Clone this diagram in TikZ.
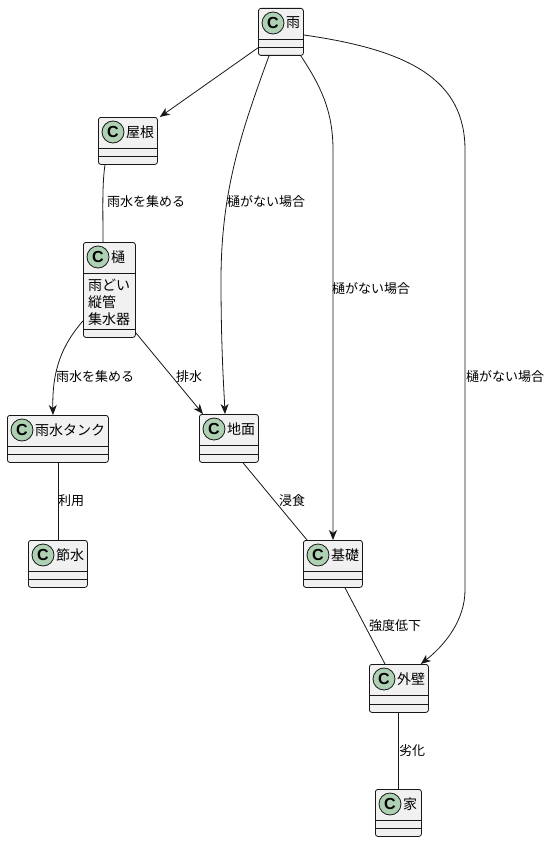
\documentclass[tikz,border=0pt]{standalone}
\usepackage{fontspec}
\setmainfont{Noto Sans CJK JP}
\newfontfamily\cfont{Liberation Sans}
\usetikzlibrary{arrows.meta,calc}
\definecolor{boxfill}{HTML}{F1F1F1}
\definecolor{ln}{HTML}{181818}
\definecolor{cgreen}{HTML}{ADD1B2}
\tikzset{
  cls/.style={draw=ln, fill=boxfill, rounded corners=2.5pt, anchor=north west, inner sep=0pt, line width=0.8pt},
  circ/.style={circle, draw=ln, fill=cgreen, minimum size=22pt, inner sep=0pt, line width=0.8pt, font=\cfont\bfseries\fontsize{16}{16}\selectfont},
  ttl/.style={inner sep=0pt, anchor=west, font=\fontsize{14}{14}\selectfont},
  attr/.style={inner sep=0pt, anchor=west, font=\fontsize{14}{14}\selectfont},
  sep/.style={draw=ln, line width=0.8pt},
  edge/.style={draw=ln, line width=0.8pt},
  arr/.style={edge, -{Stealth[length=10pt,width=8pt,inset=3pt]}},
  lbl/.style={inner sep=0pt, anchor=west, font=\fontsize{13}{13}\selectfont},
}
\newcommand\umlclass[6]{%
  \node[cls, minimum width=#4pt, minimum height=#5pt] (#1) at (#2,#3) {};
  \node[circ] (#1c) at ($(#1.north west)+(15,15)$) {C};
  \node[ttl] (#1t) at ($(#1.north west)+(28,15)$) {#6};
  \draw[sep] ($(#1.north west)+(0,31)$) -- ($(#1.north east)+(0,31)$);
  \draw[sep] ($(#1.south west)+(0,-8)$) -- ($(#1.south east)+(0,-8)$);
}
\begin{document}
\begin{tikzpicture}[x=1pt,y=-1pt]
\useasboundingbox[fill=white] (0,0) rectangle (551,843);
\umlclass{rain}{258}{8}{45}{47}{雨}
\umlclass{roof}{98}{117}{59}{47}{屋根}
\umlclass{gutter}{83}{242}{52}{95}{樋}
\node[attr] (a1) at ($(gutter.north west)+(5,43)$) {雨どい};
\node[attr] (a2) at ($(gutter.north west)+(5,60)$) {縦管};
\node[attr] (a3) at ($(gutter.north west)+(5,77)$) {集水器};
\umlclass{tank}{7}{415}{101}{47}{雨水タンク}
\umlclass{save}{28}{540}{59}{47}{節水}
\umlclass{ground}{199}{414}{59}{48}{地面}
\umlclass{found}{303}{540}{59}{47}{基礎}
\umlclass{wall}{369}{664}{59}{48}{外壁}
\umlclass{house}{375}{789}{46}{47}{家}

% edges
\draw[arr] ($(rain.south west)+(0,-8)$) -- ($(roof.north east)+(2,0)$);
\draw[edge] ($(roof.south west)+(7,0)$) .. controls (102,185) and (103,210) .. ($(gutter.north west)+(20,0)$);
\node[lbl] (l1) at (107,202) {雨水を集める};

\draw[arr] ($(rain.south west)+(11,0)$) .. controls (242,130) and (221,190) .. (221,280) .. controls (221,350) and (224,390) .. ($(ground.north west)+(26,0)$);
\node[lbl] (l2) at (227,202) {樋がない場合};

\draw[arr] ($(rain.south east)+(-3,0)$) .. controls (320,85) and (333,110) .. (333,150) -- ($(found.north west)+(30,0)$);
\node[lbl] (l3) at (332,289) {樋がない場合};

\draw[arr] ($(rain.north east)+(0,27)$) .. controls (410,50) and (465,80) .. (465,150) -- (465,590) .. controls (465,620) and (445,645) .. ($(wall.north east)+(-8,0)$);
\node[lbl] (l4) at (466,377) {樋がない場合};

\draw[arr] ($(gutter.south west)+(0,-17)$) .. controls (62,345) and (52,370) .. ($(tank.north west)+(46,0)$);
\node[lbl] (l5) at (56,377) {雨水を集める};

\draw[arr] ($(gutter.south east)+(0,-5)$) -- ($(ground.north west)+(4,0)$);
\node[lbl] (l6) at (176,377) {排水};

\draw[edge] ($(tank.south west)+(51,0)$) -- ($(save.north west)+(30,0)$);
\node[lbl] (l7) at (58,501) {利用};

\draw[edge] ($(ground.south west)+(44,0)$) -- ($(found.north west)+(4,0)$);
\node[lbl] (l8) at (279,501) {浸食};

\draw[edge] ($(found.south west)+(42,0)$) -- ($(wall.north west)+(16,0)$);
\node[lbl] (l9) at (369,626) {強度低下};

\draw[edge] ($(wall.south west)+(29,0)$) -- ($(house.north west)+(23,0)$);
\node[lbl] (l10) at (399,751) {劣化};
\end{tikzpicture}
\end{document}
